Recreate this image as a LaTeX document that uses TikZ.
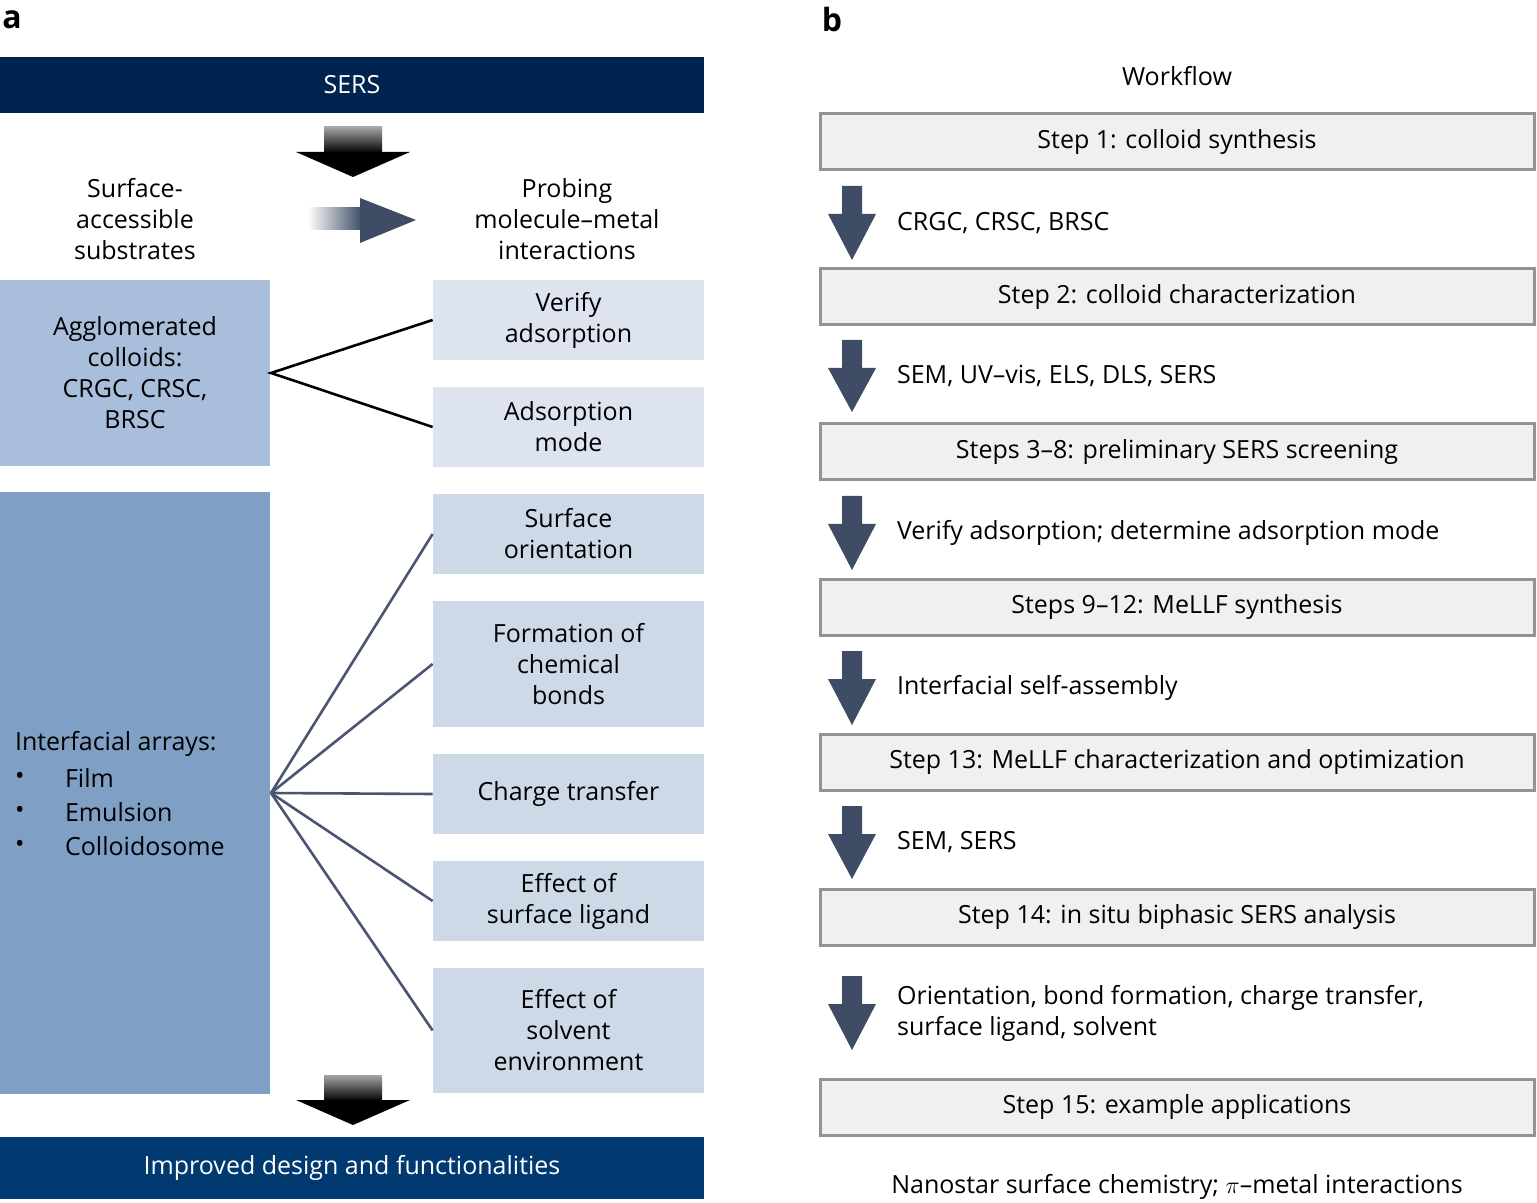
\documentclass[tikz,border=0pt]{standalone}
\usepackage{fontspec}
\setmainfont{Open Sans}
\begin{document}
\begin{tikzpicture}[x=0.5pt,y=-0.5pt,
 txt/.style={font=\fontsize{12.5}{15.5}\selectfont,align=center,text=black},
 lt/.style={font=\fontsize{12.5}{15.5}\selectfont,anchor=west,text=black},
 wbox/.style={draw=gray!85,line width=1.5pt,fill=gray!12},
 blk/.style={line width=1.3pt,black},
 gl/.style={line width=1.3pt,draw=lineg},
 darr/.style={fill=arrb}]
\definecolor{navy}{HTML}{00234F}
\definecolor{navyb}{HTML}{003A70}
\definecolor{lb1}{HTML}{A8BEDB}
\definecolor{lb2}{HTML}{7F9FC4}
\definecolor{rb1}{HTML}{DDE4EF}
\definecolor{rb2}{HTML}{CDD9E7}
\definecolor{lineg}{HTML}{4A5670}
\definecolor{arrb}{HTML}{3E4C66}
\useasboundingbox (0,0) rectangle (1537,1203);
\node[font=\bfseries\fontsize{16}{18}\selectfont] (la) at (12,20) {a};
\node[font=\bfseries\fontsize{16}{18}\selectfont] (lb) at (832,20) {b};
% left panel
\node[fill=navy,minimum width=352pt,minimum height=28pt,inner sep=0,text=white,font=\fontsize{12.5}{15}\selectfont] (sers) at (352,85) {SERS};
\node[fill=navyb,minimum width=352pt,minimum height=31pt,inner sep=0,text=white,font=\fontsize{12.5}{15}\selectfont] (imp) at (352,1168) {Improved design and functionalities};
\shade[top color=gray!70,bottom color=black] (324,127) rectangle (382,153);
\fill[black] (296,152) -- (410,152) -- (353,177) -- cycle;
\shade[top color=gray!70,bottom color=black] (324,1075) rectangle (382,1101);
\fill[black] (296,1100) -- (410,1100) -- (353,1125) -- cycle;
\shade[left color=white,right color=arrb] (308,208) rectangle (362,230);
\fill[arrb] (360,198) -- (416,220) -- (360,243) -- cycle;
\node[txt] (sub) at (135,219) {Surface-\\accessible\\substrates};
\node[txt] (prob) at (567,219) {Probing\\molecule–metal\\interactions};
\node[fill=lb1,minimum width=135pt,minimum height=93pt,inner sep=0,txt] (agg) at (135,373) {Agglomerated\\colloids:\\CRGC, CRSC,\\BRSC};
\node[fill=lb2,minimum width=135pt,minimum height=300.5pt,inner sep=0] (ia) at (135,793) {};
\node[lt] (iat) at (8,744) {Interfacial arrays:};
\foreach \t/\y in {Film/778,Emulsion/812,Colloidosome/846}{\node[lt] at (8,\y) {•}; \node[lt] at (58,\y) {\t};}
\foreach \n/\c/\y/\h/\t in {r1/rb1/320/80/{Verify\\adsorption},r2/rb1/427/80/{Adsorption\\mode},r3/rb2/534/80/{Surface\\orientation},r4/rb2/664/126/{Formation of\\chemical\\bonds},r5/rb2/794/80/{Charge transfer},r6/rb2/901/80/{Effect of\\surface ligand},r7/rb2/1030.5/125/{Effect of\\solvent\\environment}}
 \node[fill=\c,minimum width=135.5pt,minimum height=\h*0.5pt,inner sep=0,txt] (\n) at (568.5,\y) {\t};
\coordinate (ja) at (271,373);
\coordinate (jb) at (271,793);
\draw[blk] (r1.west) -- (ja) -- (r2.west);
\foreach \n in {r3,r4,r5,r6,r7} \draw[gl] (jb) -- (\n.west);
% right panel
\node[txt] (wf) at (1177,76) {Workflow};
\foreach \n/\y/\t in {s1/142/{Step 1: colloid synthesis},s2/297/{Step 2: colloid characterization},s3/452/{Steps 3–8: preliminary SERS screening},s4/607/{Steps 9–12: MeLLF synthesis},s5/762/{Step 13: MeLLF characterization and optimization},s6/917/{Step 14: in situ biphasic SERS analysis},s7/1107/{Step 15: example applications}}
 \node[wbox,minimum width=357pt,minimum height=28pt,inner sep=0,txt] (\n) at (1177,\y) {\t};
\foreach \a/\b/\t [count=\i] in {186/260/{CRGC, CRSC, BRSC},340/412/{SEM, UV–vis, ELS, DLS, SERS},496/570/{Verify adsorption; determine adsorption mode},651/725/{Interfacial self-assembly},806/879/{SEM, SERS},976/1050/{Orientation, bond formation, charge transfer,\\surface ligand, solvent}}{
 \fill[arrb] (842,\a) -- (862,\a) -- (862,{\a+28}) -- (876,{\a+28}) -- (852,\b) -- (828,{\a+28}) -- (842,{\a+28}) -- cycle;
 \node[lt,align=left] (w\i) at (890,{(\a+\b)/2}) {\t};}
\node[txt] (fin) at (1177,1187) {Nanostar surface chemistry; $\pi$–metal interactions};
\end{tikzpicture}
\end{document}
